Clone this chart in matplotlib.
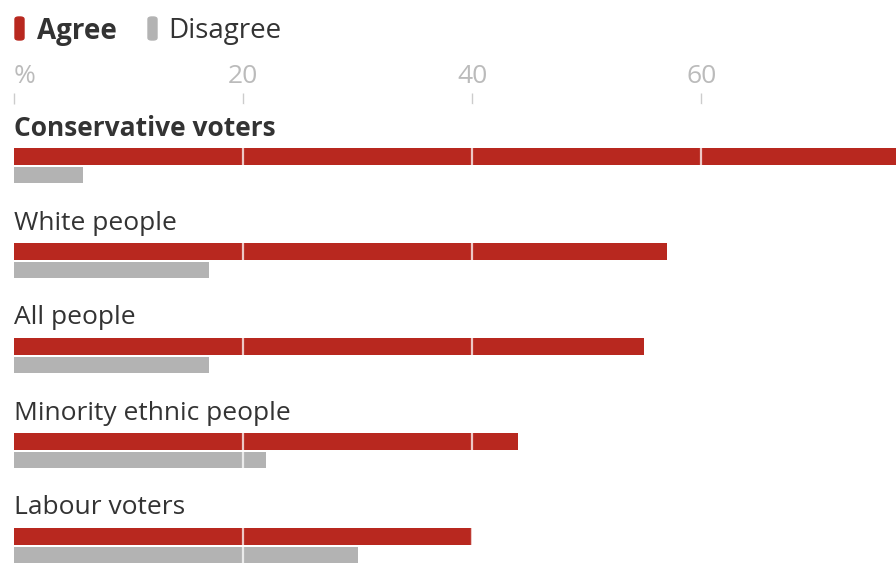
import matplotlib.pyplot as plt
from matplotlib.patches import FancyBboxPatch

# data
groups = ["Conservative voters", "White people", "All people",
          "Minority ethnic people", "Labour voters"]
agree = [78, 57, 55, 44, 40]
disagree = [6, 17, 17, 22, 30]
ticks = [0, 20, 40, 60]
tick_labels = ["%", "20", "40", "60"]

red = "#b8281f"
grey = "#b3b3b3"
txt = "#333333"

plt.rcParams['font.family'] = ['Open Sans', 'DejaVu Sans']

W, H = 896, 563
fig = plt.figure(figsize=(W / 100, H / 100), dpi=100)
# axes: x from 14px to right edge, y from 104px to bottom (pixel units for y)
top = 104
ax = fig.add_axes([14 / W, 0, 1 - 14 / W, 1 - top / H])
ax.set_xlim(0, 77)
ax.set_ylim(H - top, 0)

step = 95
bh = 17
for i, g in enumerate(groups):
    base = 156 - top + i * step  # agree bar centre
    ax.barh(base, agree[i], height=bh, color=red, zorder=2)
    ax.barh(base + 19, disagree[i], height=bh - 1, color=grey, zorder=2)
    ax.text(0, base - 28, g, fontsize=19, color=txt, va="center", ha="left",
            fontweight="bold" if i == 0 else "normal", zorder=5)

for t in ticks[1:]:
    ax.axvline(t, color="white", lw=1.6, alpha=0.75, zorder=3)

ax.xaxis.tick_top()
ax.set_xticks(ticks)
ax.set_xticklabels(tick_labels, fontsize=19, color="#bbbbbb")
ax.get_xticklabels()[0].set_ha("left")
ax.tick_params(axis="x", length=8, width=1, color="#cccccc", pad=3)
ax.set_yticks([])
for s in ax.spines.values():
    s.set_visible(False)

# legend
fig.patches.append(FancyBboxPatch((15 / W, 1 - 40 / H), 9 / W, 23 / H,
                                  boxstyle="round,pad=0,rounding_size=0.004",
                                  transform=fig.transFigure, color=red))
fig.text(37 / W, 1 - 31 / H, "Agree", fontsize=20, fontweight="bold",
         color=txt, va="center")
fig.patches.append(FancyBboxPatch((148 / W, 1 - 40 / H), 9 / W, 23 / H,
                                  boxstyle="round,pad=0,rounding_size=0.004",
                                  transform=fig.transFigure, color=grey))
fig.text(168 / W, 1 - 31 / H, "Disagree", fontsize=20, color=txt, va="center")

fig.savefig("out.png", dpi=100)
